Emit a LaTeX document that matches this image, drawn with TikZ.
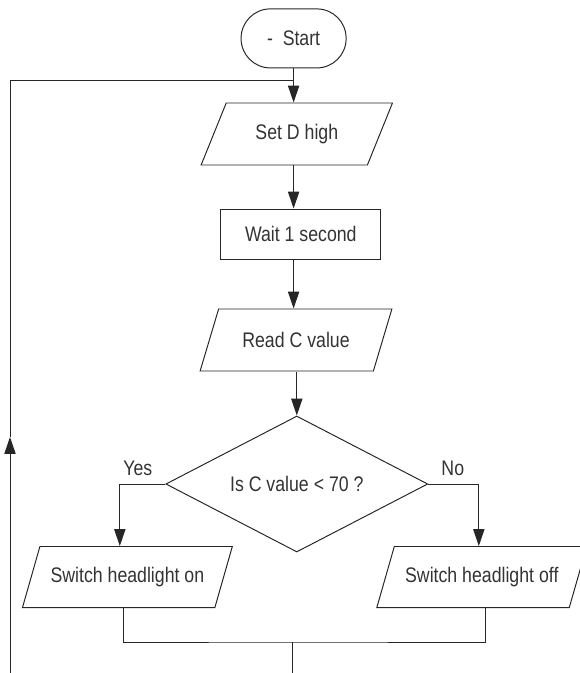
\documentclass[tikz,border=0pt]{standalone}
\usepackage{fontspec}
\setmainfont[FakeStretch=0.84]{Liberation Sans}
\usepackage{tikz}
\usetikzlibrary{shapes, arrows.meta}
\tikzstyle{startstop} = [rectangle, rounded corners=7.3mm, minimum width=2.625cm, minimum height=1.475cm, text centered, draw=black!85]
\tikzstyle{io} = [trapezium, trapezium left angle=61, trapezium right angle=119, trapezium stretches=true, minimum height=1.55cm, inner xsep=1mm, text centered, draw=black!85]
\tikzstyle{process} = [rectangle, minimum width=4cm, minimum height=1.25cm, text centered, draw=black!85]
\tikzstyle{decision} = [diamond, minimum width=6.55cm, minimum height=3.4cm, shape aspect=1.9, inner sep=0pt, text centered, draw=black!85]
\tikzstyle{answer} = [inner sep=0pt]
\tikzstyle{arrow} = [-{Triangle[length=4.2mm, width=2.8mm]}]

\begin{document}
\begin{tikzpicture}[node distance=2.5cm, line width=0.7pt, color=black!85, text=black!80, font=\fontsize{15}{18}\selectfont]
\useasboundingbox (0,0) rectangle (14.5,-16.825);
\node (start) [startstop] at (7.34,-0.96) {-~~Start};
\node (setd) [io, minimum width=4.8cm, below of=start, xshift=0.08cm, yshift=0.11cm] {Set D high};
\node (wait) [process, below of=setd, xshift=0.1cm] {Wait 1 second};
\node (readc) [io, minimum width=4.8cm, below of=wait, xshift=-0.12cm, yshift=-0.15cm] {Read C value};
\node (decide) [decision, below of=readc, xshift=0.02cm, yshift=-1.1cm] {Is C value < 70 ?};
\node (lighton) [io, minimum width=5.25cm, minimum height=1.525cm, below of=decide, xshift=-4.235cm, yshift=0.175cm] {Switch headlight on};
\node (lightoff) [io, minimum width=5.25cm, minimum height=1.525cm, below of=decide, xshift=4.625cm, yshift=0.175cm] {Switch headlight off};
\node (yes) [answer, left of=decide, xshift=-1.475cm, yshift=0.4cm] {Yes};
\node (no) [answer, right of=decide, xshift=1.4cm, yshift=0.4cm] {No};

\coordinate (joint) at (7.34,-2.0);
\coordinate (looptip) at (0.25,-10.925);
\coordinate (loopbot) at (0.25,-16.825);
\coordinate (merge) at (7.3,-16.05);
\coordinate (mergeout) at (7.3,-16.825);

\draw[arrow] (start.south) -- (start.south |- setd.north);
\draw[arrow] (setd.south -| start.south) -- (wait.north -| start.south);
\draw[arrow] (wait.south -| start.south) -- (readc.north -| start.south);
\draw[arrow] (readc.south -| decide.north) -- (decide.north);
\draw[arrow] (decide.west) -| ([xshift=-0.19cm]lighton.north);
\draw[arrow] (decide.east) -| ([xshift=-0.075cm]lightoff.north);
\draw ([xshift=-0.09cm]lighton.south) |- (merge) -| ([xshift=0.1cm]lightoff.south);
\draw (merge) -- (mergeout);
\draw[arrow] (loopbot) -- (looptip);
\draw (looptip) |- (joint);
\end{tikzpicture}
\end{document}
